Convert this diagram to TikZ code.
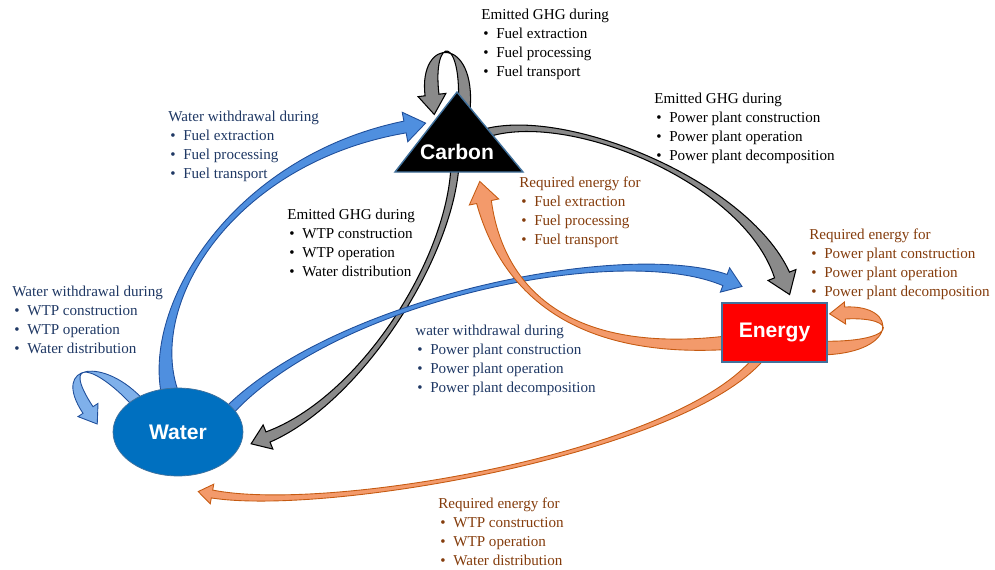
\documentclass[tikz,border=0pt]{standalone}
\usepackage{fontspec}
\setmainfont{Liberation Serif}
\newfontfamily\boxfont{Liberation Sans}
\usetikzlibrary{calc}
\usetikzlibrary{shapes.geometric}
\definecolor{wblue}{HTML}{0070C0}
\definecolor{edgeblue}{HTML}{41719C}
\definecolor{arrgray}{HTML}{8A8A8A}
\definecolor{arrblue}{HTML}{4F8FDF}
\definecolor{arrlblue}{HTML}{7FB0EA}
\definecolor{arrblueline}{HTML}{1F4E9A}
\definecolor{arrorange}{HTML}{F39A6B}
\definecolor{arrorangeline}{HTML}{C55A11}
\definecolor{txtblue}{HTML}{1F3864}
\definecolor{txtbrown}{HTML}{843C0C}
\pgfdeclarelayer{back}
\pgfsetlayers{back,main}
\tikzset{
    lbl/.style={anchor=north west, inner sep=0pt, align=left, font=\fontsize{8.6}{10.8}\selectfont},
    boxtext/.style={text=white, font=\boxfont\bfseries\fontsize{12}{14}\selectfont},
    grayarrow/.style={fill=arrgray, draw=black, line width=0.6pt},
    bluearrow/.style={fill=arrblue, draw=arrblueline, line width=0.5pt},
    lbluearrow/.style={fill=arrlblue, draw=arrblueline, line width=0.5pt},
    orangearrow/.style={fill=arrorange, draw=arrorangeline, line width=0.5pt},
}
\def\ribbon[#1](#2)(#3)(#4)(#5)(#6:#7:#8:#9)% Syntax: [style] (start)(control 1)(control 2)(head base)(start:middle:end:head half widths)
    { \filldraw[#1] ($(#2)!#6!90:(#3)$)
        .. controls ($(#3)!#7!-90:(#2)$) and ($(#4)!#7!90:(#5)$) .. ($(#5)!#8!-90:(#4)$)
        -- ($(#5)!#9!-90:(#4)$) -- ($(#5)!-1.4*#9!(#4)$) -- ($(#5)!#9!90:(#4)$)
        -- ($(#5)!#8!90:(#4)$)
        .. controls ($(#4)!#7!-90:(#5)$) and ($(#3)!#7!90:(#2)$) .. ($(#2)!#6!-90:(#3)$) -- cycle; }
\newcommand\itm[1]{\\\hspace*{1.1pt}\makebox[7.4pt][l]{\textbullet}#1}

\begin{document}
\begin{tikzpicture}[x=0.02cm, y=-0.02cm]
		\useasboundingbox (0,0) rectangle (995,569);
		\filldraw[fill=black, draw=edgeblue, line width=0.8pt] (457,92) -- (395,172) -- (523,172) -- cycle;
		\node[boxtext] (carbon) at (457,152) {Carbon};
		\node[ellipse, fill=wblue, draw=edgeblue, minimum width=2.6cm, minimum height=1.76cm, inner sep=0pt, boxtext] (water) at (178,432) {Water};
		\node[rectangle, fill=red, draw=edgeblue, line width=0.8pt, minimum width=2.1cm, minimum height=1.18cm, boxtext] (energy) at (774.5,332.5) {Energy};
		% labels
		\node[lbl] (ghgfuel) at (481,9) {Emitted GHG during\itm{Fuel extraction}\itm{Fuel processing}\itm{Fuel transport}};
		\node[lbl, text=txtblue] (wwfuel) at (168,111) {Water withdrawal during\itm{Fuel extraction}\itm{Fuel processing}\itm{Fuel transport}};
		\node[lbl] (ghgpower) at (654,93) {Emitted GHG during\itm{Power plant construction}\itm{Power plant operation}\itm{Power plant decomposition}};
		\node[lbl, text=txtbrown] (efuel) at (519,177) {Required energy for\itm{Fuel extraction}\itm{Fuel processing}\itm{Fuel transport}};
		\node[lbl] (ghgwtp) at (287,209) {Emitted GHG during\itm{WTP construction}\itm{WTP operation}\itm{Water distribution}};
		\node[lbl, text=txtbrown] (epower) at (809,229) {Required energy for\itm{Power plant construction}\itm{Power plant operation}\itm{Power plant decomposition}};
		\node[lbl, text=txtblue] (wwwtp) at (12,286) {Water withdrawal during\itm{WTP construction}\itm{WTP operation}\itm{Water distribution}};
		\node[lbl, text=txtblue] (wwpower) at (415,325) {water withdrawal during\itm{Power plant construction}\itm{Power plant operation}\itm{Power plant decomposition}};
		\node[lbl, text=txtbrown] (ewtp) at (438,498) {Required energy for\itm{WTP construction}\itm{WTP operation}\itm{Water distribution}};
		\begin{pgfonlayer}{back}
		% carbon arrows
		\coordinate (cl0) at ($(carbon)+(7,-42)$);
		\coordinate (cl1) at ($(carbon)+(-25,-57)$);
		\ribbon[grayarrow](cl0)(470,35)(425,35)(cl1)(0.12cm:0.14cm:0.14cm:0.28cm)
		\coordinate (cw0) at ($(carbon)+(-2,13)$);
		\coordinate (cw1) at ($(water)+(90,5)$);
		\ribbon[grayarrow](cw0)(450,260)(360,400)(cw1)(0.08cm:0.05cm:0.11cm:0.26cm)
		\coordinate (ce0) at ($(carbon)+(23,-17)$);
		\coordinate (ce1) at ($(energy)+(7.5,-57.5)$);
		\ribbon[grayarrow](ce0)(560,105)(745,180)(ce1)(0.09cm:0.04cm:0.16cm:0.3cm)
		% water arrows
		\coordinate (wc0) at ($(water)+(-6,-32)$);
		\coordinate (wc1) at ($(carbon)+(-52,-25)$);
		\ribbon[bluearrow](wc0)(140,310)(230,160)(wc1)(0.18cm:0.06cm:0.12cm:0.3cm)
		\coordinate (wl0) at ($(water)+(-38,-27)$);
		\coordinate (wl1) at ($(water)+(-90,-22)$);
		\ribbon[lbluearrow](wl0)(100,360)(55,360)(wl1)(0.12cm:0.12cm:0.12cm:0.24cm)
		\coordinate (we0) at ($(water)+(47,-17)$);
		\coordinate (we1) at ($(energy)+(-49.5,-52.5)$);
		\ribbon[bluearrow](we0)(330,300)(620,240)(we1)(0.1cm:0.03cm:0.12cm:0.26cm)
		% energy arrows
		\coordinate (ec0) at ($(energy)+(-39.5,9.5)$);
		\coordinate (ec1) at ($(carbon)+(27,50)$);
		\ribbon[orangearrow](ec0)(560,360)(500,280)(ec1)(0.14cm:0.04cm:0.15cm:0.3cm)
		\coordinate (el0) at ($(energy)+(40.5,15.5)$);
		\coordinate (el1) at ($(energy)+(70.5,-19.5)$);
		\ribbon[orangearrow](el0)(900,350)(900,310)(el1)(0.14cm:0.12cm:0.12cm:0.22cm)
		\coordinate (ew0) at ($(energy)+(-9.5,17.5)$);
		\coordinate (ew1) at ($(water)+(34,62)$);
		\ribbon[orangearrow](ew0)(700,450)(330,515)(ew1)(0.1cm:0.03cm:0.08cm:0.2cm)
		\end{pgfonlayer}
	\end{tikzpicture}
\end{document}
